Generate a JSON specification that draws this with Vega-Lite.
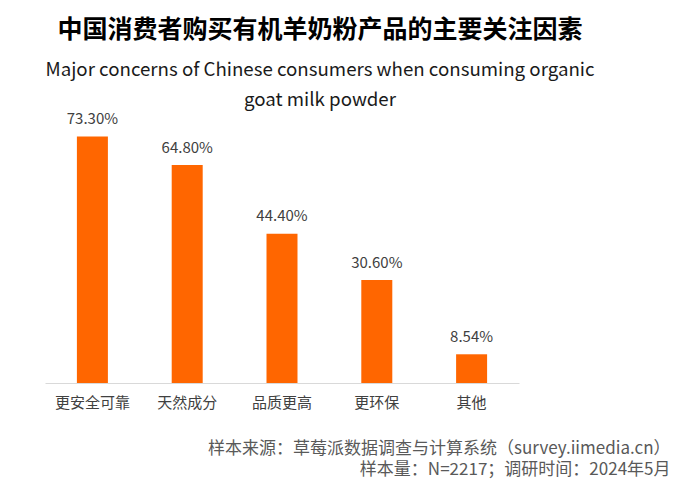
{
  "$schema": "https://vega.github.io/schema/vega-lite/v6.json",
  "autosize": "none",
  "padding": {"left": 45, "top": 114, "right": 161, "bottom": 105},
  "width": 474,
  "height": 269,
  "background": "white",
  "view": {"stroke": null},
  "title": {
    "text": "中国消费者购买有机羊奶粉产品的主要关注因素",
    "subtitle": ["Major concerns of Chinese consumers when consuming organic", "goat milk powder"],
    "anchor": "middle",
    "dx": 38,
    "font": "Noto Sans CJK SC",
    "fontSize": 25,
    "fontWeight": "bold",
    "color": "#000000",
    "subtitleFont": "Noto Sans CJK SC",
    "subtitleFontSize": 18.7,
    "subtitleColor": "#1a1a1a",
    "subtitleLineHeight": 30,
    "subtitlePadding": 18,
    "offset": 2
  },
  "data": {
    "values": [
      {"factor": "更安全可靠", "share": 0.7330},
      {"factor": "天然成分", "share": 0.6480},
      {"factor": "品质更高", "share": 0.4440},
      {"factor": "更环保", "share": 0.3060},
      {"factor": "其他", "share": 0.0854}
    ]
  },
  "encoding": {
    "x": {
      "field": "factor",
      "type": "nominal",
      "sort": null,
      "scale": {"paddingInner": 0.673, "paddingOuter": 0.3365},
      "axis": {
        "title": ["样本来源：草莓派数据调查与计算系统（survey.iimedia.cn）", "样本量：N=2217；调研时间：2024年5月"],
        "titleFont": "Noto Sans CJK SC",
        "titleFontSize": 17,
        "titleFontWeight": "normal",
        "titleColor": "#595959",
        "titleAnchor": "end",
        "titleAlign": "right",
        "titleBaseline": "alphabetic",
        "titleX": 625,
        "titleY": 70,
        "titleLineHeight": 21,
        "labelAngle": 0,
        "labelFont": "Noto Sans CJK SC",
        "labelFontSize": 15,
        "labelColor": "#404040",
        "labelPadding": 12,
        "ticks": false,
        "grid": false,
        "domainColor": "#d9d9d9",
        "domainWidth": 1
      }
    },
    "y": {
      "field": "share",
      "type": "quantitative",
      "scale": {"domain": [0, 0.8]},
      "axis": null
    }
  },
  "layer": [
    {
      "mark": {"type": "bar", "color": "#FF6600"}
    },
    {
      "mark": {
        "type": "text",
        "baseline": "alphabetic",
        "dy": -12.5,
        "font": "Noto Sans CJK SC",
        "fontSize": 15,
        "color": "#404040"
      },
      "encoding": {
        "text": {"field": "share", "type": "quantitative", "format": ".2%"}
      }
    }
  ]
}
